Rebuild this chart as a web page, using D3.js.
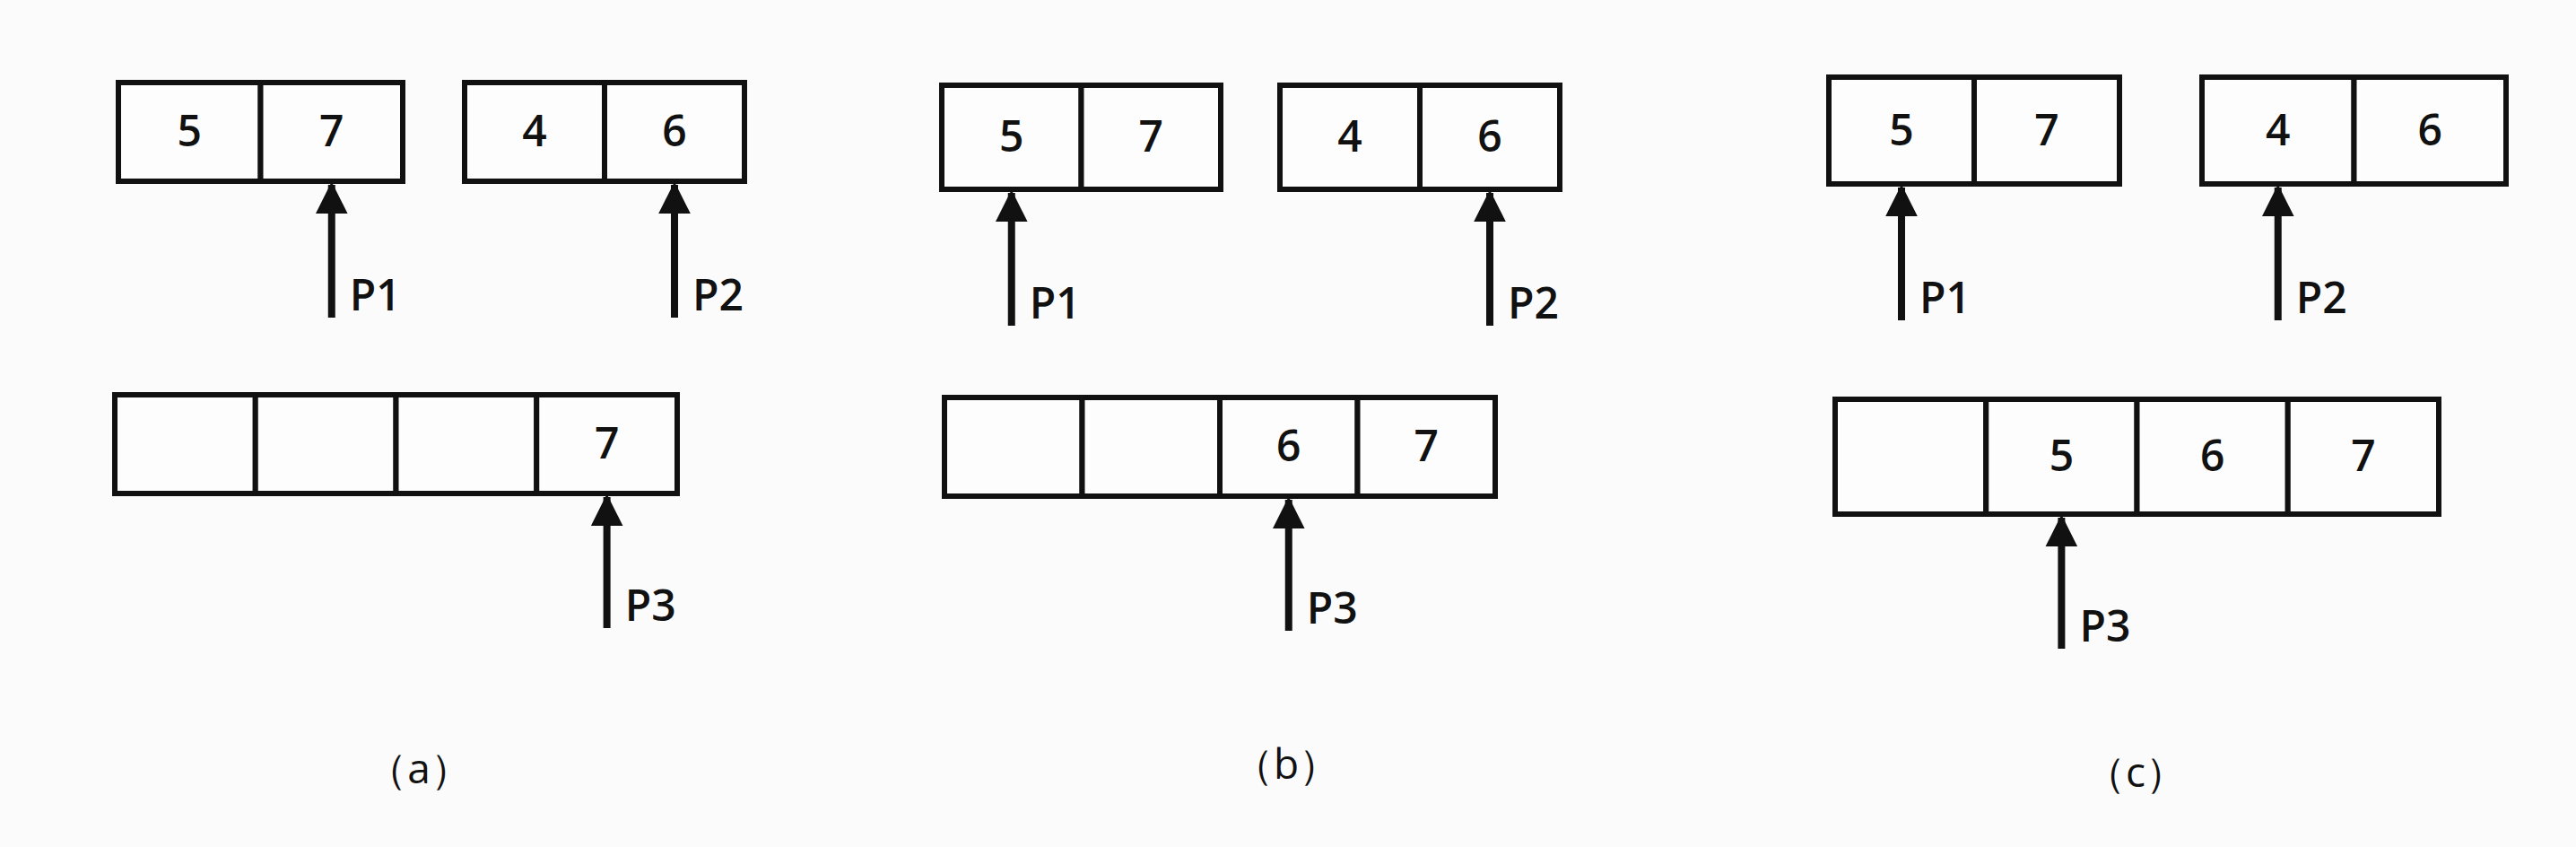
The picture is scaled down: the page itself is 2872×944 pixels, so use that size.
<!DOCTYPE html>
<html>
<head>
<meta charset="utf-8">
<script src="https://cdn.jsdelivr.net/npm/d3@7"></script>
<style>
  body { margin: 0; background: #fbfbfb; }
  svg text { font-family: "Open Sans", "Liberation Sans", sans-serif; fill: #111; font-weight: 600; }
</style>
</head>
<body>
<svg id="chart" width="2872" height="944"></svg>
<script>
// panel data
const panelLabels = ["（a）", "（b）", "（c）"];
const firstArray = [5, 7];
const secondArray = [4, 6];
const mergedArrays = [
  [null, null, null, 7],
  [null, null, 6, 7],
  [null, 5, 6, 7]
];
const p1Index = [1, 0, 0];
const p2Index = [1, 1, 0];
const p3Index = [3, 2, 1];

// layout per panel
const layout = [
  { a1: [132, 449], a2: [518, 830], top: [92, 202], bot: [128, 755], botY: [440, 550], lab: [467, 857] },
  { a1: [1050, 1361], a2: [1427, 1739], top: [95, 211], bot: [1053, 1667], botY: [443, 553], lab: [1434, 852] },
  { a1: [2039, 2363], a2: [2455, 2794], top: [86, 205], bot: [2046, 2719], botY: [445, 573], lab: [2381, 861] }
];

const svg = d3.select("#chart");
const defs = svg.append("defs");
defs.append("marker")
  .attr("id", "head")
  .attr("viewBox", "0 0 10 10")
  .attr("refX", 9).attr("refY", 5)
  .attr("markerWidth", 4.5).attr("markerHeight", 4.5)
  .attr("markerUnits", "strokeWidth")
  .attr("orient", "auto")
  .append("path").attr("d", "M0,0 L10,5 L0,10 Z").attr("fill", "#111");

function drawArray(g, values, range, yRange) {
  const x = d3.scaleBand().domain(d3.range(values.length)).range(range);
  const h = yRange[1] - yRange[0];
  const cells = g.append("g");
  cells.selectAll("rect")
    .data(values)
    .join("rect")
    .attr("x", (d, i) => x(i))
    .attr("y", yRange[0])
    .attr("width", x.bandwidth())
    .attr("height", h)
    .attr("fill", "#fdfdfd")
    .attr("stroke", "#111")
    .attr("stroke-width", 6);
  cells.selectAll("text")
    .data(values)
    .join("text")
    .attr("x", (d, i) => x(i) + x.bandwidth() / 2)
    .attr("y", yRange[0] + h / 2 + 16)
    .attr("text-anchor", "middle")
    .style("font-size", "48px")
    .text(d => d == null ? "" : d);
  return x;
}

function drawPointer(g, xPos, yTop, len, label) {
  g.append("line")
    .attr("x1", xPos).attr("x2", xPos)
    .attr("y1", yTop + len).attr("y2", yTop + 4)
    .attr("stroke", "#111")
    .attr("stroke-width", 8)
    .attr("marker-end", "url(#head)");
  g.append("text")
    .attr("x", xPos + 20)
    .attr("y", yTop + len - 8)
    .style("font-size", "48px")
    .text(label);
}

layout.forEach((L, k) => {
  const g = svg.append("g");
  const x1 = drawArray(g, firstArray, L.a1, L.top);
  const x2 = drawArray(g, secondArray, L.a2, L.top);
  const x3 = drawArray(g, mergedArrays[k], L.bot, L.botY);

  drawPointer(g, x1(p1Index[k]) + x1.bandwidth() / 2, L.top[1], 152, "P1");
  drawPointer(g, x2(p2Index[k]) + x2.bandwidth() / 2, L.top[1], 152, "P2");
  drawPointer(g, x3(p3Index[k]) + x3.bandwidth() / 2, L.botY[1], 150, "P3");

  g.append("text")
    .attr("x", L.lab[0])
    .attr("y", L.lab[1] + 16)
    .attr("text-anchor", "middle")
    .style("font-size", "46px")
    .style("font-weight", 400)
    .text(panelLabels[k]);
});
</script>
</body>
</html>
